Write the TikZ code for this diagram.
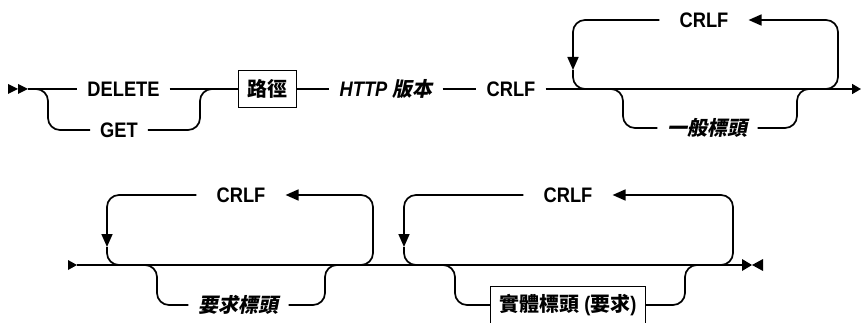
\documentclass[tikz,border=0pt]{standalone}
\usepackage{fontspec}
\setmainfont{Liberation Sans}[FakeStretch=0.87]
\newfontfamily\cjk{Noto Sans CJK TC}[Scale=0.95]
\newfontfamily\cjksl{Noto Sans CJK TC}[Scale=0.95, FakeSlant=0.2]
\newcommand\rrfont{\fontsize{21}{23}\selectfont}
\usetikzlibrary{arrows.meta, positioning}

\begin{document}
\begin{tikzpicture}[
    x=1pt, y=-1pt,
    rr/.style={line width=1.7pt, rounded corners=12pt},
    tip/.style={-{Triangle[length=13pt, width=11pt]}},
    lbl/.style={inner xsep=10pt, inner ysep=1pt, font=\rrfont\bfseries},
    itlbl/.style={lbl, font=\rrfont\bfseries\itshape},
    rep/.style={lbl, inner xsep=20pt},
    term/.style={draw, line width=1.5pt, inner xsep=9pt, inner ysep=0pt, minimum height=37pt, font=\rrfont\bfseries}
]
\useasboundingbox (0,0) rectangle (861,323);

% Row 1 nodes
\node (del) [lbl] at (123.5,89) {DELETE};
\node (get) [lbl] at (119,130) {GET};
\node (path) [term] at (267.5,89) {\cjk 路徑};
\node (ver) [itlbl] at (386,89) {HTTP {\cjksl\upshape 版本}};
\node (crlf) [lbl] at (511,89) {CRLF};
\node (crlfa) [rep] at (704,20) {CRLF};
\node (gen) [itlbl] at (707.5,128) {\cjksl\upshape 一般標頭};

\coordinate (s1) at (28,89);
\coordinate (e1) at (861,89);
\coordinate (f1) at (48,89);
\coordinate (f2) at (200,89);
\coordinate (l1a) at (823,89);
\coordinate (l1b) at (838,20);
\coordinate (l1c) at (573,70);
\coordinate (l1d) at (590,89);
\coordinate (l1e) at (608,89);
\coordinate (g1) at (623,128);
\coordinate (g2) at (797,89);

% Row 1 lines
\fill (8,84) -- (18,89) -- (8,94) -- cycle;
\fill (18,84) -- (28,89) -- (18,94) -- cycle;
\draw [rr] (s1) -- (del);
\draw [rr] (38,89) -- (f1) |- (get);
\draw [rr] (get) -| (f2) -- ++(10,0);
\draw [rr] (del) -- (path);
\draw [rr] (path) -- (ver);
\draw [rr] (ver) -- (crlf);
\draw [rr, -{Triangle[length=9pt, width=10pt]}] (crlf) -- (e1);
\draw [rr, tip] (l1a) -| (l1b) -- (crlfa);
\draw [rr, tip] (crlfa) -| (l1c);
\draw [rr] (l1c) |- (l1d);
\draw [rr] (l1e) -| (g1) -- (gen);
\draw [rr] (gen) -| (g2) -- ++(12,0);

% Row 2 nodes
\node (crlfb) [rep] at (241,195) {CRLF};
\node (req) [itlbl] at (238.5,305) {\cjksl\upshape 要求標頭};
\node (crlfc) [rep] at (568,195) {CRLF};
\node (ent) [term] at (568,305) {{\cjk 實體標頭} ({\cjk 要求})};

\coordinate (s2) at (77,265);
\coordinate (e2) at (742,265);
\coordinate (l2a) at (358,265);
\coordinate (l2b) at (373,195);
\coordinate (l2c) at (107,247);
\coordinate (l2d) at (124,265);
\coordinate (l2e) at (142,265);
\coordinate (r1) at (157,305);
\coordinate (r2) at (325,265);
\coordinate (l3a) at (718,265);
\coordinate (l3b) at (733,195);
\coordinate (l3c) at (404,247);
\coordinate (l3d) at (421,265);
\coordinate (l3e) at (440,265);
\coordinate (b1) at (455,305);
\coordinate (b2) at (685,265);

% Row 2 lines
\fill (68,260) -- (77,265) -- (68,270) -- cycle;
\draw [rr] (s2) -- (e2);
\fill (742,259) -- (752,265) -- (742,271) -- cycle;
\fill (763,259) -- (752,265) -- (763,271) -- cycle;
\draw [rr, tip] (l2a) -| (l2b) -- (crlfb);
\draw [rr, tip] (crlfb) -| (l2c);
\draw [rr] (l2c) |- (l2d);
\draw [rr] (l2e) -| (r1) -- (req);
\draw [rr] (req) -| (r2) -- ++(12,0);
\draw [rr, tip] (l3a) -| (l3b) -- (crlfc);
\draw [rr, tip] (crlfc) -| (l3c);
\draw [rr] (l3c) |- (l3d);
\draw [rr] (l3e) -| (b1) -- (ent);
\draw [rr] (ent) -| (b2) -- ++(12,0);

\end{tikzpicture}
\end{document}
